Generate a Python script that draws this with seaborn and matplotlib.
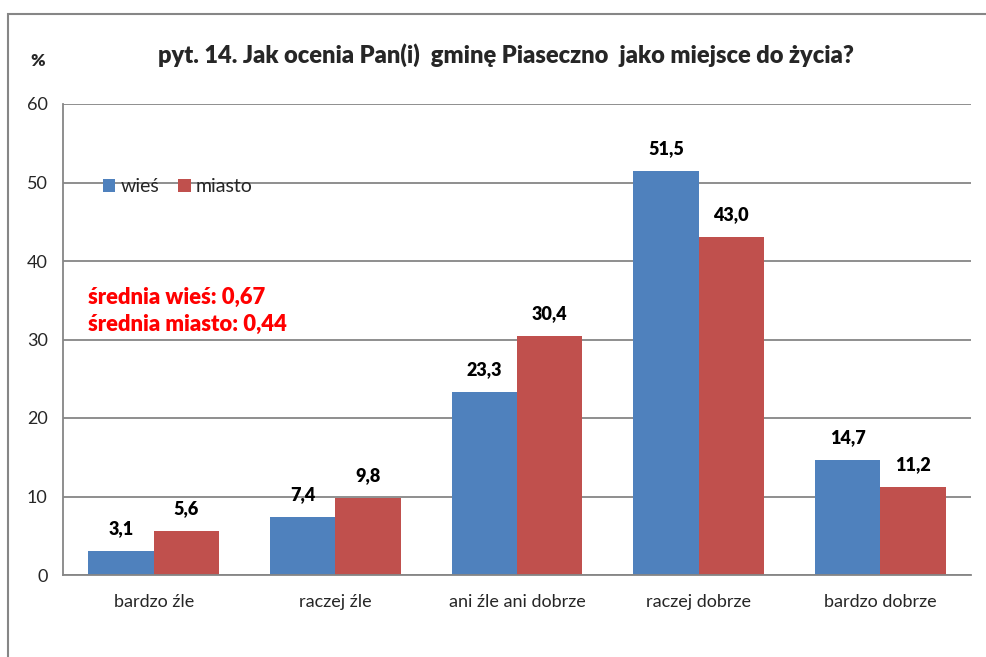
import pandas as pd
import matplotlib.pyplot as plt
import seaborn as sns
from matplotlib.patches import Rectangle

# Dane z wykresu
kategorie = ["bardzo źle", "raczej źle", "ani źle ani dobrze", "raczej dobrze", "bardzo dobrze"]
wies = [3.1, 7.4, 23.3, 51.5, 14.7]
miasto = [5.6, 9.8, 30.4, 43.0, 11.2]
serie = ["wieś", "miasto"]
kolory = ["#4F81BD", "#C0504D"]
srednie = ["średnia wieś: 0,67", "średnia miasto: 0,44"]

df = pd.DataFrame({
    "kategoria": kategorie * 2,
    "seria": [serie[0]] * len(kategorie) + [serie[1]] * len(kategorie),
    "wartosc": wies + miasto,
})

sns.set_style("white")
plt.rcParams["font.family"] = ["Lato", "DejaVu Sans"]

fig = plt.figure(figsize=(9.87, 6.57), dpi=100)
ax = fig.add_axes([63 / 987, 1 - 575 / 657, 908 / 987, 471 / 657])

sns.barplot(data=df, x="kategoria", y="wartosc", hue="seria", palette=kolory,
            width=0.72, linewidth=0, saturation=1, ax=ax, legend=True)

for cont in ax.containers:
    ax.bar_label(cont, labels=[f"{v:.1f}".replace(".", ",") for v in cont.datavalues],
                 padding=10, fontsize=13, fontweight="heavy", color="black")

ax.set_ylim(0, 60)
ax.set_xlim(-0.5, 4.5)
ax.set_yticks(range(0, 61, 10))
ax.yaxis.grid(True, color="#868686", linewidth=1.3)
ax.set_axisbelow(True)
ax.set_xlabel("")
ax.set_ylabel("")
for s in ["top", "right"]:
    ax.spines[s].set_visible(False)
for s in ["left", "bottom"]:
    ax.spines[s].set_color("#868686")
    ax.spines[s].set_linewidth(1.3)

ax.tick_params(axis="y", length=5, width=1.3, color="#868686", labelsize=13, pad=6)
ax.tick_params(axis="x", which="major", length=0, labelsize=13, pad=14)
ax.set_xticks([i - 0.5 for i in range(len(kategorie) + 1)], minor=True)
ax.tick_params(axis="x", which="minor", length=5, width=1.3, color="#868686")

leg = ax.legend(loc="center left", bbox_to_anchor=(0.033, 0.824), ncol=2, frameon=False,
                handlelength=0.65, handleheight=0.65, handletextpad=0.25, columnspacing=1.0,
                fontsize=14, borderpad=0)

ax.text(0.027, 0.59, srednie[0], transform=ax.transAxes, color="red",
        fontsize=15.8, fontweight="heavy", va="center")
ax.text(0.027, 0.533, srednie[1], transform=ax.transAxes, color="red",
        fontsize=15.8, fontweight="heavy", va="center")

fig.text(506 / 987, 1 - 55 / 657, "pyt. 14. Jak ocenia Pan(i)  gminę Piaseczno  jako miejsce do życia?",
         ha="center", va="center", fontsize=17, fontweight="heavy")
fig.text(38 / 987, 1 - 61 / 657, "%", ha="center", va="center", fontsize=12.5, fontweight="heavy")

fig.patches.append(Rectangle((8 / 987, -0.1), 1.1, 1.1 - 14 / 657, transform=fig.transFigure,
                             fill=False, edgecolor="#868686", linewidth=1.5))

fig.savefig("out.png", dpi=100)
